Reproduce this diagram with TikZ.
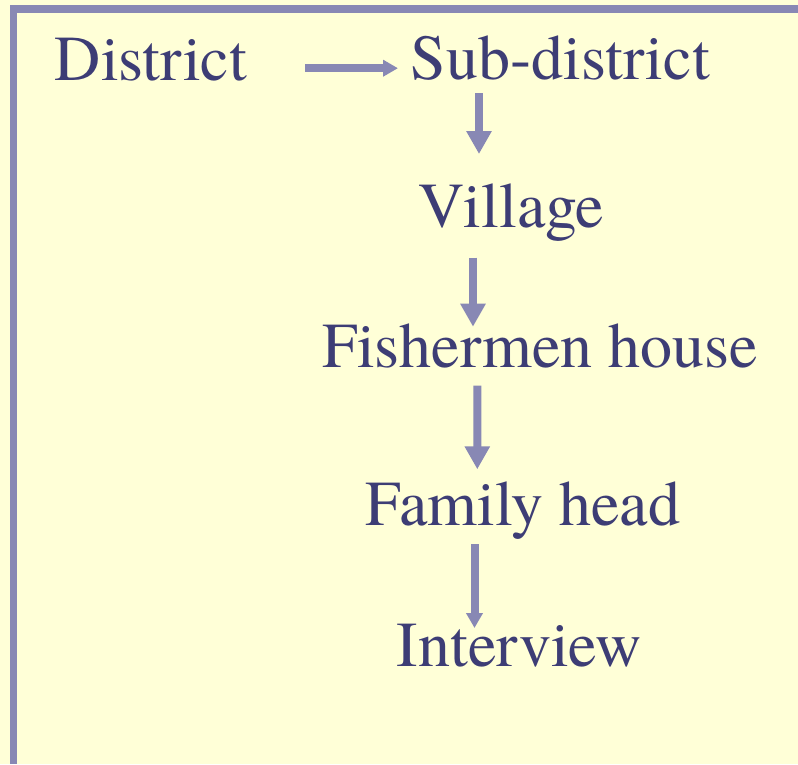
\documentclass[tikz,border=0pt]{standalone}
\usepackage{fontspec}
\setmainfont{texgyretermes-regular.otf}
\usetikzlibrary{arrows.meta,calc}
\definecolor{bg}{RGB}{255,255,215}
\definecolor{frame}{RGB}{136,136,180}
\definecolor{ink}{RGB}{61,61,117}
\begin{document}
\begin{tikzpicture}[x=1pt,y=1pt,
  lbl/.style={anchor=base,inner sep=0pt,text=ink,font=\fontsize{64}{64}\selectfont},
  arr/.style={draw=frame,line width=8pt},
  bigtip/.style={-{Triangle[length=23pt,width=24pt]}},
  smalltip/.style={-{Triangle[length=15pt,width=16pt]}}]
\fill[bg] (0,0) rectangle (798,-764);
\useasboundingbox (0,0) rectangle (798,-764);
\fill[frame] (10,-5) rectangle (798,-12.7);
\fill[frame] (10,-5) rectangle (17.3,-764);
\node[lbl] (dist) at (151,-80.7) {District};
\node[lbl] (sub) at (560.4,-79.3) {Sub-district};
\node[lbl] (vil) at (511.4,-227.3) {Village};
\node[lbl] (fish) at (540.3,-367.3) {Fishermen house};
\node[lbl] (fam) at (522.9,-525) {Family head};
\node[lbl] (int) at (519.2,-666) {Interview};
\draw[arr,smalltip] ($(dist.base)+(154,12.5)$) -- ($(sub.base)+(-162.4,11.1)$);
\draw[arr,bigtip] ($(sub.base)+(-81.4,-14)$) -- ($(vil.base)+(-32.4,73.3)$);
\draw[arr,bigtip] ($(vil.base)+(-38.4,-30.4)$) -- ($(fish.base)+(-67.3,40.6)$);
\draw[arr,bigtip] ($(fish.base)+(-63,-18.4)$) -- ($(fam.base)+(-45.6,55.7)$);
\draw[arr,smalltip] ($(fam.base)+(-48.4,-19)$) -- ($(int.base)+(-44.7,38)$);
\end{tikzpicture}
\end{document}
